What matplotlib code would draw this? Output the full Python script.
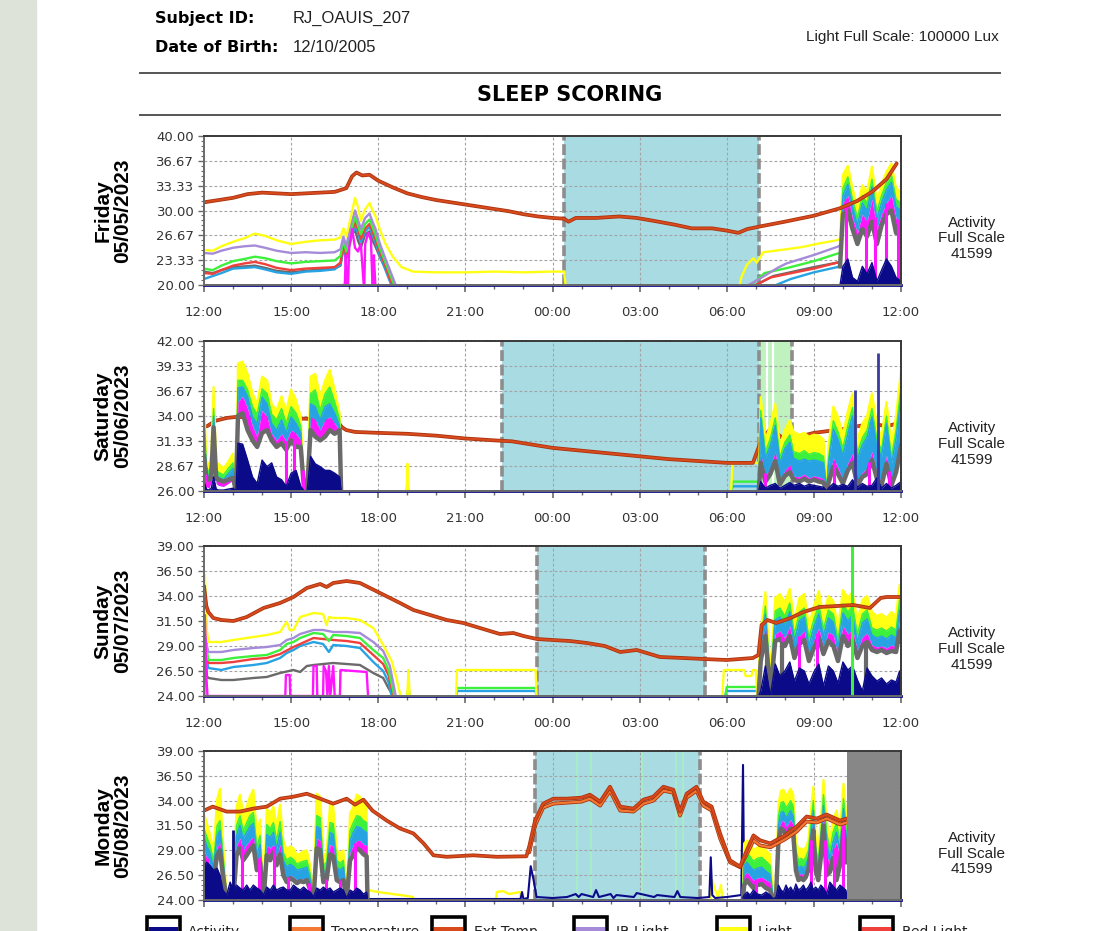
import numpy as np
import matplotlib
matplotlib.use("Agg")
import matplotlib.pyplot as plt
from matplotlib.patches import Rectangle
from matplotlib.lines import Line2D
import matplotlib.patheffects as pe
from matplotlib.ticker import FixedLocator, MultipleLocator

nan = float("nan")

# ---------------------------------------------------------------- text / labels
SUBJECT_ID = "RJ_OAUIS_207"
BIRTH_DATE = "12/10/2005"
LIGHT_SCALE = "Light Full Scale: 100000 Lux"
TITLE = "SLEEP SCORING"
ACTIVITY_FULL_SCALE = 41599
HOUR_LABELS = ["12:00", "15:00", "18:00", "21:00", "00:00", "03:00", "06:00", "09:00", "12:00"]
DAY_NAMES = ["Friday", "Saturday", "Sunday", "Monday"]
DAY_DATES = ["05/05/2023", "05/06/2023", "05/07/2023", "05/08/2023"]
LEGEND_LABELS = ["Activity", "Temperature", "Ext Temp", "IR Light", "Light", "Red Light"]

FRI_YTICKS = [20.00, 23.33, 26.67, 30.00, 33.33, 36.67, 40.00]
SAT_YTICKS = [26.00, 28.67, 31.33, 34.00, 36.67, 39.33, 42.00]
SUN_YTICKS = [24.00, 26.50, 29.00, 31.50, 34.00, 36.50, 39.00]
MON_YTICKS = [24.00, 26.50, 29.00, 31.50, 34.00, 36.50, 39.00]

# sleep / wake intervals (hours after 12:00 noon)
FRI_SLEEP = [12.40, 19.10]
SAT_SLEEP = [10.26, 19.11]
SAT_WAKE_GREEN = [19.11, 20.25]
SAT_GREEN_MARKS = [19.37, 19.60]
SUN_SLEEP = [11.47, 17.25]
MON_SLEEP = [11.40, 17.08]
MON_GREEN_MARKS = [12.84, 13.33, 15.08, 16.25, 16.50]
MON_OFFWRIST = [22.14, 24.0]

# ---------------------------------------------------------------- FRIDAY
FRI_EXT_H = [0, 0.5, 1, 1.5, 2, 2.5, 3, 3.5, 4, 4.5, 4.9, 5.1, 5.25, 5.45, 5.7, 6.0, 6.5, 7, 7.5, 8,
             9, 10, 10.5, 11, 11.5, 12, 12.4, 12.55, 12.8, 13.5, 14.3, 14.9, 15.5, 16.2, 16.8, 17.5, 18.0, 18.4, 18.7, 19.2,
             20.0, 21.0, 21.9, 22.5, 23.0, 23.5, 23.85]
FRI_EXT_V = [31.1, 31.4, 31.7, 32.2, 32.4, 32.3, 32.2, 32.3, 32.4, 32.5, 33.0, 34.6, 35.1, 34.7, 34.8, 34.0, 33.1, 32.3, 31.8, 31.4,
             30.8, 30.2, 29.9, 29.5, 29.2, 29.0, 28.9, 28.5, 29.0, 29.0, 29.2, 29.0, 28.6, 28.1, 27.6, 27.6, 27.3, 27.0, 27.5, 27.9,
             28.5, 29.3, 30.3, 31.3, 32.5, 34.2, 36.3]
FRI_LIGHT_H = [0, 0.3, 0.6, 1.0, 1.4, 1.75, 2.1, 2.5, 3.0, 3.5, 4.0, 4.5, 4.7, 4.8, 4.9, 5.05, 5.2, 5.3, 5.4, 5.55,
               5.7, 5.8, 5.9, 6.05, 6.25, 6.5, 6.8, 7.2, 8.0, 9.0, 10.0, 11.0, 12.0, 12.4, 12.45, nan, 18.45, 18.5, 18.69, 18.92,
               19.03, 19.26, 20.06, 20.6, 21.21, 21.79, 21.9]
FRI_LIGHT_V = [24.7, 24.6, 25.2, 25.8, 26.3, 26.9, 26.6, 26.0, 25.5, 25.8, 26.0, 26.1, 26.4, 27.6, 26.5, 29.0, 31.7, 30.5, 28.6, 30.2,
               31.0, 30.0, 29.3, 27.5, 25.5, 23.8, 22.4, 21.8, 21.7, 21.7, 21.8, 21.7, 21.8, 21.8, 20.0, nan, 20.0, 21.0, 22.7, 23.6,
               23.0, 24.4, 24.8, 25.1, 25.6, 26.0, 26.2]
FRI_IR_H = [0, 0.3, 0.6, 1.0, 1.4, 1.75, 2.1, 2.5, 3.0, 3.5, 4.0, 4.5, 4.7, 4.8, 4.9, 5.05, 5.2, 5.3, 5.4, 5.55,
            5.7, 5.8, 5.9, 6.05, 6.25, 6.45, 6.6, nan, 18.75, 19.29, 19.75, 20.06, 20.98, 21.79, 21.9]
FRI_IR_V = [24.3, 24.2, 24.6, 25.0, 25.2, 25.3, 25.0, 24.6, 24.3, 24.4, 24.3, 24.4, 24.8, 26.5, 25.2, 28.0, 30.0, 28.8, 27.5, 29.0,
            29.6, 28.5, 27.6, 25.6, 23.5, 21.5, 20.0, nan, 20.0, 21.2, 22.3, 22.9, 24.0, 25.1, 25.3]
FRI_GREEN_H = [0, 0.3, 0.6, 1.0, 1.4, 1.75, 2.1, 2.5, 3.0, 3.5, 4.0, 4.5, 4.7, 4.8, 4.9, 5.05, 5.2, 5.3, 5.4, 5.55,
               5.7, 5.8, 5.9, 6.05, 6.25, 6.45, 6.55, nan, 18.85, 19.3, 19.75, 20.1, 21.0, 21.8, 21.9]
FRI_GREEN_V = [22.2, 22.0, 22.6, 23.2, 23.5, 23.8, 23.6, 23.2, 22.9, 23.1, 23.2, 23.3, 23.9, 26.0, 24.5, 27.0, 29.2, 28.0, 26.8, 28.2,
               28.8, 27.8, 26.8, 25.0, 23.0, 21.0, 20.0, nan, 20.0, 21.6, 22.0, 22.3, 23.2, 24.2, 24.3]
FRI_RED_H = [0, 0.3, 0.6, 1.0, 1.4, 1.75, 2.1, 2.5, 3.0, 3.5, 4.0, 4.5, 4.7, 4.8, 4.9, 5.05, 5.2, 5.3, 5.4, 5.55,
             5.7, 5.8, 5.9, 6.05, 6.25, 6.4, 6.5, nan, 19.0, 19.5, 20.1, 21.0, 21.8, 21.9]
FRI_RED_V = [21.6, 21.5, 22.0, 22.6, 22.9, 23.1, 22.8, 22.3, 22.0, 22.2, 22.3, 22.4, 23.0, 25.5, 24.0, 26.5, 28.5, 27.5, 26.2, 27.6,
             28.2, 27.2, 26.2, 24.5, 22.5, 20.8, 20.0, nan, 20.0, 21.0, 21.5, 22.2, 23.0, 23.1]
FRI_BLUE_H = [0, 0.3, 0.6, 1.0, 1.4, 1.75, 2.1, 2.5, 3.0, 3.5, 4.0, 4.5, 4.7, 4.8, 4.9, 5.05, 5.2, 5.3, 5.4, 5.55,
              5.7, 5.8, 5.9, 6.05, 6.25, 6.4, 6.45, nan, 19.7, 20.2, 21.0, 21.8, 21.9]
FRI_BLUE_V = [20.8, 21.2, 21.6, 22.2, 22.3, 22.4, 22.1, 21.7, 21.5, 21.8, 21.9, 22.1, 22.8, 25.0, 23.6, 26.0, 28.0, 27.0, 25.8, 27.2,
              27.8, 26.8, 25.8, 24.0, 22.0, 20.5, 20.0, nan, 20.0, 20.8, 21.7, 22.4, 22.5]
FRI_GREY_H = [0, 0.3, 0.6, 1.0, 1.4, 1.75, 2.1, 2.5, 3.0, 3.5, 4.0, 4.5, 4.7, 4.8, 4.9, 5.05, 5.2, 5.3, 5.4, 5.55,
              5.7, 5.8, 5.9, 6.05, 6.25, 6.4, 6.55, nan, 19.0, 19.6, 20.3, 21.0, 21.8, 21.9]
FRI_GREY_V = [21.8, 21.6, 22.0, 22.4, 22.5, 22.6, 22.3, 21.9, 21.7, 21.9, 22.1, 22.2, 22.6, 25.0, 23.5, 26.2, 27.5, 26.0, 25.0, 26.8,
              27.2, 26.0, 25.2, 23.8, 22.2, 21.0, 20.0, nan, 20.0, 21.2, 21.8, 22.4, 23.0, 23.0]
FRI_MAG_H = [4.8, 4.85, 4.88, 4.92, 4.96, 5.0, 5.1, 5.2, 5.3, 5.4, 5.5, 5.52, 5.55, 5.65, 5.75, 5.8, 5.82, 5.85, 5.9]
FRI_MAG_V = [20.0, 20.0, 24.0, 20.0, 20.0, 25.0, 27.5, 25.0, 24.5, 25.5, 20.0, 20.0, 25.5, 27.0, 26.0, 20.0, 20.0, 24.0, 20.0]
# dense (saturated) stretch, morning
FRI_D_H = [21.9, 22.0, 22.17, 22.33, 22.5, 22.67, 22.83, 23.0, 23.17, 23.33, 23.5, 23.67, 23.83, 24.0]
FRI_D_LIGHT = [26.5, 34.8, 36.0, 33.0, 30.5, 33.4, 32.5, 35.9, 31.2, 33.5, 35.2, 36.3, 33.0, 32.5]
FRI_D_GREEN = [24.5, 33.0, 34.5, 31.5, 29.0, 32.0, 31.0, 34.2, 29.8, 32.0, 33.8, 34.8, 31.5, 31.0]
FRI_D_BLUE = [23.5, 32.0, 33.5, 30.5, 28.0, 31.0, 30.0, 33.2, 28.8, 31.0, 32.8, 33.8, 30.5, 30.0]
FRI_D_MAG = [22.5, 31.0, 32.0, 29.0, 27.0, 29.5, 28.5, 31.5, 27.5, 29.5, 31.0, 32.0, 29.0, 28.5]
FRI_D_GREY = [22.5, 29.5, 30.0, 27.5, 25.5, 27.5, 26.5, 28.5, 25.5, 28.0, 29.5, 30.0, 27.0, 27.0]
FRI_D_ACT = [20.0, 22.5, 23.5, 21.0, 20.5, 22.5, 21.5, 23.0, 20.5, 22.0, 23.5, 22.5, 21.0, 20.5]
FRI_D_MAG_SPIKES = [22.1, 22.8, 23.1, 23.5, 23.9]

# ---------------------------------------------------------------- SATURDAY
SAT_EXT_H = [0.1, 0.4, 0.8, 1.1, 2.5, 3.6, 4.6, 4.75, 4.9, 5.2, 6.0, 7.0, 8.0, 9.0, 10.0, 10.6, 11.0, 12.0, 13.0, 14.0,
             15.0, 16.0, 17.0, 18.0, 18.9, 19.2, 19.5, 20.0, 20.5, 21.0, 21.5, 22.0, 22.5, 23.0, 23.5, 24.0]
SAT_EXT_V = [32.9, 33.5, 33.8, 33.9, 33.8, 33.7, 33.4, 32.8, 32.5, 32.3, 32.2, 32.1, 31.9, 31.6, 31.4, 31.3, 31.1, 30.6, 30.3, 30.0,
             29.7, 29.4, 29.2, 29.0, 29.0, 31.5, 32.6, 31.5, 31.8, 32.2, 32.4, 32.6, 32.9, 33.2, 32.9, 33.3]
SAT_LIGHT_H = [6.98, 7.0, 7.04, nan, 18.15, 18.2, 19.1, 19.12]
SAT_LIGHT_V = [26.0, 28.9, 26.0, nan, 26.0, 29.0, 29.0, 26.0]
SAT_GREEN_H = [6.98, 7.0, 7.04, nan, 18.15, 18.2, 19.1, 19.12]
SAT_GREEN_V = [26.0, 26.8, 26.0, nan, 26.0, 27.0, 27.0, 26.0]
SAT_BLUE_H = [18.15, 18.2, 19.1, 19.12]
SAT_BLUE_V = [26.0, 26.5, 26.5, 26.0]
SAT_A_H = [0.0, 0.08, 0.17, 0.25, 0.33, 0.42, 0.5, 0.67, 0.83, 1.0, 1.1, 1.17, 1.33, 1.5, 1.67, 1.83, 2.0, 2.17, 2.33, 2.5,
           2.67, 2.83, 3.0, 3.17, 3.33, 3.45, 3.55, 3.67, 3.83, 4.0, 4.17, 4.33, 4.5, 4.67, 4.72]
SAT_A_LIGHT = [35.7, 29.3, 28.6, 30.0, 37.1, 29.0, 28.9, 28.4, 29.1, 30.0, 26.0, 39.6, 39.8, 38.5, 36.4, 35.3, 38.2, 37.8, 35.3, 34.6,
               36.1, 34.5, 36.8, 35.7, 33.9, 26.0, 26.0, 38.2, 38.5, 36.1, 37.8, 38.9, 36.8, 34.3, 26.0]
SAT_A_GREEN = [34.5, 28.6, 28.0, 29.0, 34.8, 28.2, 28.0, 27.7, 28.4, 29.0, 26.0, 37.8, 37.8, 36.8, 35.0, 34.2, 36.9, 36.4, 34.2, 33.6,
               34.8, 33.2, 35.0, 34.3, 32.9, 26.0, 26.0, 36.4, 36.8, 34.6, 36.4, 37.1, 35.5, 33.6, 26.0]
SAT_A_BLUE = [33.5, 28.0, 27.5, 28.3, 34.0, 27.6, 27.5, 27.2, 27.8, 28.4, 26.0, 37.0, 37.1, 36.1, 33.9, 33.2, 36.0, 35.3, 33.2, 32.5,
              33.6, 32.2, 33.9, 33.2, 32.2, 26.0, 26.0, 35.3, 35.0, 33.6, 35.0, 35.3, 34.3, 32.9, 26.0]
SAT_A_MAG = [30.0, 26.5, 26.3, 27.0, 31.0, 26.8, 26.6, 26.5, 26.8, 27.2, 26.0, 35.5, 36.1, 34.8, 32.9, 31.8, 34.6, 33.9, 32.1, 31.4,
             32.1, 31.3, 32.5, 32.1, 31.4, 26.0, 26.0, 33.9, 33.6, 32.5, 33.6, 33.9, 33.2, 32.5, 26.0]
SAT_A_GREY = [29.7, 27.5, 27.2, 27.5, 32.8, 27.3, 27.2, 27.0, 27.2, 27.4, 26.0, 34.0, 34.3, 32.5, 31.4, 30.7, 32.2, 32.5, 31.4, 30.7,
              31.1, 30.4, 31.4, 30.7, 30.7, 26.0, 26.0, 32.5, 31.8, 31.4, 31.8, 32.5, 32.1, 32.5, 26.0]
SAT_A_ACT = [27.0, 26.2, 26.1, 26.3, 27.5, 26.2, 26.1, 26.1, 26.2, 26.3, 26.0, 31.1, 31.0, 29.3, 27.5, 26.8, 29.3, 28.6, 29.0, 27.5,
             27.2, 26.5, 27.9, 28.2, 26.5, 26.0, 26.0, 29.7, 28.9, 28.6, 28.2, 28.2, 27.9, 27.5, 26.0]
SAT_A_MAG_SPIKES = [0.05, 2.83, 3.1, 3.4]
SAT_B_H = [19.1, 19.17, 19.33, 19.5, 19.67, 19.83, 20.0, 20.17, 20.3, 20.5, 20.67, 20.83, 21.0, 21.17, 21.33, 21.45,
           21.5, 21.67, 21.83, 22.0, 22.17, 22.33, 22.5, 22.67, 22.83, 23.0, 23.17, 23.33, 23.5, 23.67, 23.83, 24.0]
SAT_B_LIGHT = [26.0, 36.0, 31.5, 33.0, 35.3, 30.8, 32.5, 33.5, 32.3, 32.0, 32.2, 31.8, 32.0, 31.9, 31.5, 26.0,
               30.8, 35.0, 33.9, 32.0, 34.5, 36.4, 31.5, 33.2, 34.0, 36.4, 33.0, 31.8, 35.5, 31.0, 34.0, 38.9]
SAT_B_GREEN = [26.0, 34.6, 30.2, 31.6, 33.8, 29.6, 31.2, 32.0, 30.2, 30.0, 30.3, 29.9, 30.1, 30.0, 29.7, 26.0,
               29.4, 33.5, 32.3, 30.6, 33.0, 34.9, 30.1, 31.7, 32.5, 34.8, 31.5, 30.4, 34.0, 29.6, 32.5, 37.2]
SAT_B_BLUE = [26.0, 33.8, 29.5, 30.8, 33.0, 29.0, 30.5, 31.2, 29.5, 29.2, 29.4, 29.2, 29.3, 29.2, 29.0, 26.0,
              28.8, 32.6, 31.5, 29.8, 32.1, 34.0, 29.4, 30.9, 31.7, 33.9, 30.7, 29.7, 33.2, 28.9, 31.6, 36.0]
SAT_B_MAG = [26.0, 30.0, 27.5, 28.5, 30.2, 27.0, 28.2, 28.8, 27.6, 27.5, 27.8, 27.4, 27.6, 27.5, 27.3, 26.0,
             27.2, 29.5, 28.5, 27.2, 29.0, 30.0, 27.0, 28.0, 28.4, 30.2, 27.8, 27.0, 29.8, 27.0, 28.8, 31.8]
SAT_B_GREY = [26.0, 29.0, 27.0, 27.8, 29.2, 26.7, 27.6, 28.0, 27.2, 27.0, 27.3, 27.0, 27.2, 27.0, 26.9, 26.0,
              26.8, 28.6, 27.8, 26.8, 28.2, 29.0, 26.6, 27.5, 27.8, 29.3, 27.3, 26.6, 28.9, 26.6, 28.0, 30.8]
SAT_B_ACT = [26.0, 27.0, 26.3, 26.6, 26.8, 26.3, 26.6, 26.9, 26.6, 26.8, 26.5, 26.7, 26.6, 26.5, 26.4, 26.0,
             26.3, 26.8, 26.5, 26.7, 26.5, 27.2, 26.4, 26.8, 26.5, 26.6, 27.4, 26.3, 26.8, 26.3, 26.6, 27.0]
SAT_B_MAG_SPIKES = [19.3, 21.7, 22.9, 23.6]
SAT_ACT_SPIKE_H = [22.4, 23.2]
SAT_ACT_SPIKE_V = [36.8, 40.7]

# ---------------------------------------------------------------- SUNDAY
SUN_EXT_H = [0.0, 0.08, 0.15, 0.32, 0.6, 1.01, 1.47, 2.05, 2.62, 3.08, 3.54, 4.0, 4.22, 4.45, 4.91, 5.37, 6.06, 6.75, 7.21, 8.36,
             8.93, 9.5, 10.19, 10.65, 11.0, 11.46, 12.0, 12.6, 13.18, 13.8, 14.33, 14.9, 15.7, 16.5, 17.2, 18.0, 18.9, 19.09, 19.2, 19.4,
             19.7, 20.2, 20.64, 21.2, 21.8, 22.36, 22.93, 23.3, 23.5, 24.0]
SUN_EXT_V = [35.0, 33.0, 32.4, 31.8, 31.6, 31.5, 31.9, 32.8, 33.3, 33.9, 34.8, 35.2, 34.9, 35.3, 35.5, 35.3, 34.3, 33.3, 32.6, 31.6,
             31.3, 30.8, 30.2, 30.3, 30.0, 29.7, 29.6, 29.5, 29.3, 29.0, 28.4, 28.6, 27.9, 27.8, 27.7, 27.6, 27.8, 28.1, 31.1, 31.6,
             31.3, 31.8, 32.4, 32.9, 33.0, 33.1, 32.8, 33.8, 33.9, 33.9]
SUN_LIGHT_H = [0.0, 0.03, 0.1, 0.15, 0.6, 1.01, 1.7, 2.16, 2.62, 2.75, 2.85, 2.95, 3.08, 3.31, 3.77, 4.1, 4.22, 4.3, 4.45, 4.91,
               5.37, 5.83, 6.17, 6.46, 6.65, 6.75, 6.78, nan, 7.0, 7.04, 7.08, nan, 8.68, 8.71, 11.42, 11.45, nan, 17.85, 17.9, 18.6,
               18.65, 18.85, 18.9, 19.0, 19.05]
SUN_LIGHT_V = [24.0, 36.1, 30.5, 29.4, 29.4, 29.6, 29.9, 30.1, 30.4, 31.0, 31.4, 30.6, 30.6, 31.9, 32.3, 32.2, 31.1, 31.9, 31.8, 31.8,
               31.6, 30.8, 29.1, 27.5, 25.5, 24.2, 24.0, nan, 24.0, 26.6, 24.0, nan, 24.0, 26.6, 26.6, 24.0, nan, 24.0, 26.6, 26.6,
               26.0, 26.0, 26.6, 26.6, 24.0]
SUN_IR_H = [0.0, 0.03, 0.1, 0.15, 0.6, 1.01, 1.7, 2.16, 2.62, 2.85, 3.08, 3.31, 3.77, 4.1, 4.45, 4.91, 5.37, 5.83, 6.17, 6.4,
            6.57, 6.6]
SUN_IR_V = [24.0, 34.5, 29.0, 28.4, 28.4, 28.6, 28.8, 28.9, 29.1, 29.6, 29.8, 30.2, 30.6, 30.6, 30.4, 30.4, 30.3, 29.4, 28.5, 27.0,
            24.5, 24.0]
SUN_GREEN_H = [0.0, 0.03, 0.1, 0.15, 0.6, 1.01, 1.7, 2.16, 2.62, 2.85, 3.08, 3.31, 3.77, 4.1, 4.3, 4.45, 4.91, 5.37, 5.83, 6.17,
               6.35, 6.52, 6.55, nan, 7.0, 7.04, 7.08, nan, 8.68, 8.71, 11.42, 11.45, nan, 17.95, 18.0, 19.1]
SUN_GREEN_V = [24.0, 34.0, 28.5, 27.6, 27.6, 27.8, 28.0, 28.1, 28.6, 29.2, 29.4, 29.8, 30.3, 30.2, 29.5, 30.1, 30.0, 29.8, 28.6, 27.8,
               26.6, 24.5, 24.0, nan, 24.0, 24.9, 24.0, nan, 24.0, 24.8, 24.8, 24.0, nan, 24.0, 24.9, 24.9]
SUN_RED_H = [0.0, 0.03, 0.1, 0.15, 0.6, 1.01, 1.7, 2.16, 2.62, 3.08, 3.31, 3.77, 4.1, 4.45, 4.91, 5.37, 5.83, 6.17, 6.35, 6.5, 6.52]
SUN_RED_V = [24.0, 33.0, 28.0, 27.3, 27.3, 27.4, 27.7, 27.8, 28.2, 28.9, 29.2, 29.8, 29.7, 29.6, 29.5, 29.3, 28.1, 27.2, 26.1, 24.3, 24.0]
SUN_BLUE_H = [0.0, 0.03, 0.1, 0.15, 0.6, 1.01, 1.7, 2.16, 2.62, 2.85, 3.08, 3.31, 3.77, 4.1, 4.3, 4.45, 4.91, 5.37, 5.83, 6.17,
              6.35, 6.46, nan, 7.0, 7.04, 7.08, nan, 8.68, 8.71, 11.42, 11.45, nan, 17.95, 18.0, 19.1]
SUN_BLUE_V = [24.0, 33.8, 27.5, 26.8, 26.6, 26.9, 27.1, 27.3, 27.8, 28.3, 28.6, 29.0, 29.4, 29.2, 28.4, 29.1, 29.0, 28.8, 27.4, 26.5,
              25.4, 24.0, nan, 24.0, 24.6, 24.0, nan, 24.0, 24.5, 24.5, 24.0, nan, 24.0, 24.5, 24.5]
SUN_GREY_H = [0.0, 0.03, 0.1, 0.15, 0.6, 1.01, 1.7, 2.16, 2.62, 3.08, 3.31, 3.54, 3.77, 4.45, 4.91, 5.37, 5.83, 6.17, 6.35, 6.52]
SUN_GREY_V = [24.0, 30.1, 26.0, 25.8, 25.6, 25.6, 25.8, 25.9, 26.3, 26.6, 26.4, 27.0, 27.1, 27.3, 27.2, 27.1, 26.3, 25.8, 24.8, 24.0]
SUN_MAG_H = [0.0, 0.03, 0.08, 0.12, 2.8, 2.82, 2.95, 2.97, 3.75, 3.77, 3.88, 3.9, 4.1, 4.12, 4.2, 4.25, 4.3, 4.35, 4.45, 4.5,
             4.68, 4.7, 5.6, 5.65]
SUN_MAG_V = [24.0, 32.1, 26.0, 24.0, 24.0, 26.1, 26.1, 24.0, 24.0, 27.0, 27.0, 24.0, 24.0, 27.0, 26.5, 24.0, 27.0, 24.0, 27.0, 24.0,
             24.0, 26.6, 26.4, 24.0]
SUN_B_H = [19.1, 19.17, 19.33, 19.5, 19.67, 19.83, 20.0, 20.17, 20.33, 20.5, 20.67, 20.83, 21.0, 21.17, 21.33, 21.5,
           21.67, 21.83, 22.0, 22.17, 22.33, 22.5, 22.67, 22.83, 23.0, 23.17, 23.33, 23.5, 23.67, 23.83, 23.95, 24.0]
SUN_B_LIGHT = [26.5, 30.5, 34.4, 26.5, 33.8, 34.2, 33.4, 34.7, 31.5, 33.8, 34.2, 31.0, 33.0, 34.5, 32.0, 34.0,
               33.5, 30.8, 34.6, 33.8, 34.4, 31.5, 33.6, 34.0, 32.4, 32.0, 32.2, 31.8, 32.4, 32.0, 35.1, 33.0]
SUN_B_GREEN = [25.0, 29.5, 33.0, 25.5, 32.5, 32.8, 32.0, 33.3, 30.2, 32.4, 32.8, 29.8, 31.7, 33.1, 30.7, 32.6,
               32.2, 29.6, 33.2, 32.4, 33.0, 30.2, 32.2, 32.6, 30.8, 30.6, 30.8, 30.5, 30.9, 30.6, 33.6, 31.8]
SUN_B_BLUE = [24.8, 28.8, 32.2, 25.0, 31.6, 31.9, 31.1, 32.4, 29.5, 31.5, 31.9, 29.0, 30.9, 32.2, 30.0, 31.8,
              31.4, 28.9, 32.3, 31.5, 32.1, 29.4, 31.3, 31.7, 30.1, 29.8, 30.0, 29.7, 30.1, 29.8, 32.6, 31.0]
SUN_B_MAG = [24.5, 28.0, 31.0, 24.6, 30.2, 30.5, 29.8, 31.0, 28.4, 30.0, 30.5, 28.0, 29.6, 30.8, 28.8, 30.4,
             30.1, 28.0, 31.0, 30.2, 30.7, 28.5, 29.9, 30.3, 29.1, 28.9, 29.0, 28.8, 29.1, 28.9, 31.5, 30.0]
SUN_B_GREY = [24.3, 27.5, 30.0, 24.3, 29.5, 29.7, 29.0, 30.0, 27.8, 29.2, 29.6, 27.5, 28.8, 29.8, 28.2, 29.5,
              29.0, 27.5, 30.0, 29.0, 29.6, 27.8, 29.0, 29.4, 28.6, 28.4, 28.6, 28.3, 28.5, 28.4, 30.5, 29.5]
SUN_B_ACT = [24.0, 24.5, 27.0, 24.0, 27.2, 26.0, 26.5, 27.4, 25.5, 26.8, 26.5, 25.2, 26.4, 27.2, 25.0, 27.0,
             26.5, 25.3, 27.4, 26.6, 27.0, 25.6, 24.5, 26.8, 26.0, 25.5, 25.8, 25.2, 25.6, 25.4, 26.5, 26.0]
SUN_B_MAG_SPIKES = [19.9, 20.5, 21.1]
SUN_B_GREY_DROPS = [19.4, 19.6, 19.9, 22.8]
SUN_GREEN_SPIKE_H = [22.3]

# ---------------------------------------------------------------- MONDAY
MON_EXT_H = [0.0, 0.3, 0.78, 1.24, 1.7, 2.16, 2.62, 3.08, 3.54, 4.0, 4.45, 4.91, 5.2, 5.49, 5.8, 6.29, 6.75, 7.21, 7.56, 7.9,
             8.36, 9.27, 10.08, 11.1, 11.2, 11.4, 11.68, 12.03, 12.5, 13.0, 13.29, 13.64, 13.98, 14.33, 14.79, 15.13, 15.47, 15.82, 16.16, 16.39,
             16.62, 16.96, 17.19, 17.48, 17.77, 18.11, 18.46, 18.69, 18.92, 19.15, 19.5, 20.0, 20.41, 20.75, 21.1, 21.44, 21.9, 22.13]
MON_EXT_V = [33.0, 33.4, 32.9, 32.9, 33.2, 33.4, 34.2, 34.4, 34.7, 34.2, 33.7, 34.2, 33.6, 34.1, 33.0, 32.0, 31.2, 30.7, 29.7, 28.5,
             28.35, 28.5, 28.35, 28.4, 29.4, 32.0, 33.7, 34.2, 34.2, 34.3, 34.6, 33.9, 35.4, 33.4, 33.2, 34.1, 34.4, 35.4, 35.1, 32.9,
             34.7, 35.4, 33.9, 33.4, 30.7, 28.0, 27.35, 29.0, 30.5, 30.0, 29.7, 30.5, 31.4, 32.4, 32.2, 32.6, 32.0, 32.2]
MON_TEMP_H = [11.2, 11.4, 11.68, 12.03, 12.5, 13.0, 13.29, 13.64, 13.98, 14.33, 14.79, 15.13, 15.47, 15.82, 16.16, 16.39, 16.62,
              16.96, 17.19, 17.48, 17.77, 18.11, 18.46, 18.69, 18.92, 19.15, 19.5, 20.0, 20.41, 20.75, 21.1, 21.44, 21.9, 22.13]
MON_TEMP_V = [28.8, 31.5, 33.3, 33.7, 33.8, 33.9, 34.2, 33.5, 35.0, 33.0, 32.9, 33.7, 34.0, 35.0, 34.8, 32.5, 34.3,
              35.0, 33.5, 33.0, 30.2, 27.8, 27.3, 28.6, 30.0, 29.5, 29.3, 30.1, 30.9, 31.9, 31.8, 32.2, 31.6, 31.8]
MON_LIGHT_H = [5.63, 5.65, 6.0, 6.5, 7.0, 7.2, 7.22, nan, 10.05, 10.08, 10.3, 10.5, 10.88, 10.9, nan,
               17.45, 17.5, 17.6, 17.7, 17.8, 17.85]
MON_LIGHT_V = [24.0, 25.0, 24.8, 24.6, 24.4, 24.3, 24.0, nan, 24.0, 24.8, 24.9, 24.6, 24.8, 24.0, nan,
               24.0, 26.0, 25.0, 24.3, 25.5, 24.0]
MON_ACT_H = [5.63, 10.9, 10.95, 11.0, 11.15, 11.25, 11.35, 11.45, 12.0, 12.5, 12.8, 12.9, 13.0, 13.4, 13.5, 13.6, 14.0, 14.1,
             14.2, 14.8, 14.9, 15.5, 15.6, 16.2, 16.3, 16.4, 17.0, 17.4, 17.45, 17.5, 17.6, 18.0, 18.5, 18.56, 18.6, 18.7]
MON_ACT_V = [24.1, 24.1, 24.8, 24.1, 24.2, 27.4, 26.0, 24.3, 24.2, 24.3, 24.6, 24.3, 24.6, 24.3, 25.0, 24.3, 24.6, 24.2,
             24.5, 24.3, 24.7, 24.3, 24.5, 24.3, 24.9, 24.3, 24.2, 24.3, 28.3, 24.5, 24.2, 24.3, 24.5, 37.6, 24.5, 24.2]
MON_A_H = [0.0, 0.1, 0.2, 0.33, 0.45, 0.55, 0.65, 0.78, 0.9, 1.01, 1.12, 1.24, 1.35, 1.47, 1.58, 1.7, 1.82, 1.93, 2.05, 2.16,
           2.28, 2.39, 2.5, 2.62, 2.73, 2.85, 2.97, 3.08, 3.2, 3.31, 3.43, 3.54, 3.66, 3.77, 3.88, 4.0, 4.11, 4.22, 4.34, 4.45,
           4.57, 4.68, 4.8, 4.91, 5.03, 5.14, 5.26, 5.37, 5.49, 5.6, 5.63]
MON_A_LIGHT = [32.7, 31.7, 30.7, 29.0, 34.1, 35.2, 30.0, 24.3, 24.7, 24.5, 33.4, 34.6, 32.7, 33.4, 34.4, 35.1, 30.7, 32.1, 24.3, 33.2,
               32.7, 33.4, 31.4, 33.6, 30.0, 29.0, 29.4, 29.2, 28.5, 28.7, 28.9, 29.0, 27.4, 24.3, 34.7, 34.4, 28.4, 28.7, 33.7, 33.4,
               29.0, 28.7, 29.0, 24.7, 32.7, 33.4, 34.6, 34.4, 33.7, 33.4, 24.0]
MON_A_GREEN = [31.2, 30.3, 29.6, 28.0, 31.5, 32.0, 28.8, 24.1, 24.2, 24.2, 31.5, 32.5, 31.0, 31.8, 32.5, 32.8, 29.3, 30.5, 24.1, 31.6,
               31.2, 31.8, 30.0, 31.9, 28.8, 28.0, 28.3, 28.1, 27.6, 27.8, 27.9, 28.0, 26.6, 24.1, 32.5, 32.3, 27.5, 27.8, 31.8, 31.7,
               28.0, 27.7, 28.0, 24.2, 31.0, 31.8, 32.5, 32.4, 32.0, 31.8, 24.0]
MON_A_BLUE = [30.3, 29.4, 28.8, 27.3, 30.5, 31.0, 28.0, 24.1, 24.2, 24.2, 30.5, 31.5, 30.2, 30.8, 31.4, 31.7, 28.5, 29.6, 24.1, 30.6,
              30.3, 30.8, 29.2, 30.8, 28.0, 27.3, 27.6, 27.4, 27.0, 27.1, 27.2, 27.3, 26.0, 24.1, 31.4, 31.2, 26.8, 27.0, 30.8, 30.6,
              27.3, 27.0, 27.3, 24.2, 30.0, 30.8, 31.4, 31.3, 31.0, 30.8, 24.0]
MON_A_MAG = [29.0, 28.2, 27.6, 26.5, 29.3, 29.8, 27.0, 24.1, 24.1, 24.1, 29.5, 30.2, 29.0, 29.6, 30.0, 30.4, 27.5, 28.5, 24.0, 29.5,
             29.2, 29.6, 28.2, 29.6, 26.8, 26.2, 26.5, 26.3, 26.0, 26.1, 26.1, 26.2, 25.2, 24.0, 30.2, 30.0, 26.0, 26.2, 29.6, 29.4,
             26.3, 26.0, 26.3, 24.0, 28.8, 29.5, 30.0, 30.0, 29.6, 29.5, 24.0]
MON_A_GREY = [28.0, 27.5, 27.0, 26.0, 28.5, 29.0, 26.5, 24.1, 24.1, 24.1, 28.5, 29.2, 28.0, 28.5, 29.0, 29.5, 27.0, 27.8, 24.0, 28.5,
              28.0, 28.8, 27.5, 28.6, 26.5, 25.8, 26.2, 26.0, 25.7, 25.9, 25.8, 26.0, 25.0, 24.0, 29.2, 29.0, 25.8, 26.0, 28.6, 28.4,
              26.0, 25.8, 26.0, 24.0, 28.0, 28.5, 29.2, 29.0, 28.6, 28.4, 24.0]
MON_A_ACT = [27.4, 27.8, 27.5, 27.0, 27.2, 26.5, 25.0, 24.5, 25.8, 25.0, 25.5, 25.2, 25.0, 25.5, 25.0, 25.5, 25.2, 25.0, 24.5, 25.3,
             25.0, 25.5, 25.0, 25.2, 25.3, 25.0, 25.0, 25.5, 25.2, 25.0, 25.3, 25.0, 24.8, 24.3, 25.2, 25.0, 25.3, 25.0, 25.2, 24.8,
             25.0, 25.2, 25.0, 24.2, 25.0, 24.8, 25.2, 25.0, 24.6, 24.8, 24.0]
MON_A_MAG_SPIKES = [0.1, 1.3, 1.9, 2.4, 2.9, 3.6, 4.2, 4.7, 5.2]
MON_ACT_SPIKE_H = [1.0]
MON_ACT_SPIKE_V = [31.0]
MON_B_H = [18.55, 18.6, 18.7, 18.8, 18.92, 19.05, 19.2, 19.35, 19.49, 19.6, 19.7, 19.78, 19.87, 19.95, 20.04, 20.12, 20.2, 20.29, 20.38,
           20.47, 20.56, 20.64, 20.72, 20.81, 20.9, 20.98, 21.06, 21.15, 21.24, 21.33, 21.44, 21.55, 21.66, 21.78, 21.9, 22.02, 22.1, 22.13]
MON_B_LIGHT = [24.3, 29.7, 30.0, 29.6, 29.0, 29.3, 29.5, 29.0, 28.6, 24.2, 26.0, 33.7, 35.0, 35.1, 34.5, 34.8, 35.2, 34.6, 30.0,
               29.0, 29.2, 29.0, 29.3, 30.0, 33.0, 35.4, 30.5, 29.0, 32.0, 36.1, 32.0, 30.0, 32.0, 33.0, 31.0, 35.7, 33.0, 31.4]
MON_B_GREEN = [24.2, 28.5, 28.8, 28.4, 27.9, 28.2, 28.3, 27.9, 27.5, 24.1, 25.5, 32.5, 33.8, 33.9, 33.3, 33.6, 34.0, 33.4, 29.0,
               28.0, 28.2, 28.0, 28.3, 29.0, 31.8, 34.0, 29.3, 28.0, 30.8, 34.6, 30.8, 29.0, 30.8, 31.8, 29.8, 34.2, 31.8, 30.2]
MON_B_BLUE = [24.1, 27.5, 27.8, 27.4, 27.0, 27.2, 27.3, 26.9, 26.6, 24.1, 25.2, 31.6, 32.8, 32.9, 32.3, 32.6, 33.0, 32.4, 28.2,
              27.2, 27.4, 27.2, 27.5, 28.2, 30.8, 33.0, 28.5, 27.2, 29.8, 33.5, 29.8, 28.2, 29.8, 30.8, 29.0, 33.2, 30.8, 29.3]
MON_B_MAG = [24.0, 26.5, 26.8, 26.4, 26.0, 26.2, 26.3, 26.0, 25.8, 24.0, 24.8, 30.8, 31.9, 32.0, 31.4, 31.7, 32.1, 31.5, 27.5,
             26.5, 26.7, 26.5, 26.8, 27.5, 30.0, 32.1, 27.8, 26.5, 29.0, 32.6, 28.5, 27.5, 29.0, 29.8, 28.3, 32.2, 30.0, 28.5]
MON_B_GREY = [24.0, 25.5, 26.0, 25.6, 25.2, 25.5, 25.6, 25.2, 25.0, 24.0, 24.5, 30.0, 31.2, 31.0, 30.5, 30.8, 31.2, 30.6, 27.0,
              26.0, 26.2, 26.0, 26.3, 27.0, 29.0, 31.0, 27.0, 26.0, 28.3, 31.5, 26.5, 26.8, 28.2, 26.0, 27.5, 31.0, 29.2, 27.8]
MON_B_ACT = [24.2, 24.5, 24.8, 24.5, 25.0, 24.6, 24.5, 24.8, 24.5, 24.1, 24.3, 25.5, 25.0, 24.8, 25.5, 25.0, 25.3, 24.8, 25.6,
             25.0, 25.2, 25.5, 25.0, 25.3, 25.8, 25.0, 25.3, 25.0, 25.5, 25.2, 24.6, 25.8, 25.4, 25.0, 25.5, 25.2, 25.0, 24.5]
MON_B_MAG_SPIKES = [19.0, 20.9, 21.4, 21.7, 22.0]

# ---------------------------------------------------------------- styling
C_YEL = "#ffff14"
C_GRN = "#3cf03c"
C_BLU = "#27a3e3"
C_MAG = "#ff16ff"
C_GRY = "#6a6a6a"
C_NAVY = "#0b0b8a"
C_IR = "#a58bd8"
C_RED = "#f0403c"
C_EXT = "#d84a1c"
C_TEMP = "#f47a34"
C_SLEEP = "#a9dbe3"
C_WAKE = "#bff2bf"
C_OFF = "#878787"
GRID_C = "#a3a3a3"

W, H = 1108, 931


def fx(x):
    return x / W


def fy(y):
    return 1 - y / H


NARROW = ["Liberation Sans Narrow", "Liberation Sans", "DejaVu Sans"]

fig = plt.figure(figsize=(W / 100, H / 100), dpi=100)
fig.patch.set_facecolor("white")
fig.add_artist(Rectangle((0, 0), fx(36), 1, transform=fig.transFigure, color="#dde3d9", zorder=0))

# header
fig.text(fx(155), fy(18), "Subject ID:", fontsize=11.5, fontweight="bold", family="DejaVu Sans", va="center", ha="left")
fig.text(fx(293), fy(18), SUBJECT_ID, fontsize=12, family="Liberation Sans", va="center", ha="left", color="#222")
fig.text(fx(155), fy(48), "Date of Birth:", fontsize=11.5, fontweight="bold", family="DejaVu Sans", va="center", ha="left")
fig.text(fx(293), fy(48), BIRTH_DATE, fontsize=12, family="Liberation Sans", va="center", ha="left", color="#222")
fig.text(fx(999), fy(37), LIGHT_SCALE, fontsize=11, family=NARROW, va="center", ha="right", color="#222")
for yy in (73, 115):
    fig.add_artist(Line2D([fx(140), fx(1000)], [fy(yy), fy(yy)], color="#555555", lw=1.4, transform=fig.transFigure))
fig.text(fx(570), fy(95), TITLE, fontsize=15, fontweight="bold", family="DejaVu Sans", va="center", ha="center")


def ext_line(ax, h, v, color, z):
    ax.plot(h, v, color=color, lw=1.5, zorder=z, solid_capstyle="round",
            path_effects=[pe.Stroke(linewidth=2.7, foreground="#a8330f"), pe.Normal()])


def smooth(ax, h, v, color, lw=1.7, z=3.5):
    ax.plot(h, v, color=color, lw=lw, zorder=z)


def dense(ax, h, light, green, blue, mag, grey, act, ymin, mag_spikes=(), grey_drops=()):
    h = np.asarray(h, float)
    ax.fill_between(h, light, green, color=C_YEL, lw=0, zorder=4.0)
    ax.plot(h, light, color=C_YEL, lw=1.6, zorder=4.0)
    ax.fill_between(h, green, blue, color=C_GRN, lw=0, zorder=4.1)
    ax.plot(h, green, color=C_GRN, lw=1.0, zorder=4.1)
    ax.fill_between(h, blue, mag, color=C_BLU, lw=0, zorder=4.2)
    ax.plot(h, blue, color=C_BLU, lw=1.0, zorder=4.2)
    ax.fill_between(h, mag, grey, color=C_MAG, lw=0, zorder=4.3)
    ax.plot(h, grey, color=C_GRY, lw=3.2, zorder=4.4)
    if len(mag_spikes):
        ax.vlines(mag_spikes, ymin, np.interp(mag_spikes, h, mag), color=C_MAG, lw=2.2, zorder=4.45)
    if len(grey_drops):
        ax.vlines(grey_drops, ymin, np.interp(grey_drops, h, grey), color=C_GRY, lw=3.0, zorder=4.45)
    ax.fill_between(h, ymin, act, color=C_NAVY, lw=0, zorder=4.5)
    ax.plot(h, act, color=C_NAVY, lw=1.0, zorder=4.5)


def setup_axis(ax, yt, show_xlabels=True):
    ymin, ymax = yt[0], yt[-1]
    ax.set_xlim(0, 24)
    ax.set_ylim(ymin, ymax)
    ax.set_xticks(range(0, 25, 3))
    ax.set_xticklabels(HOUR_LABELS if show_xlabels else [])
    ax.xaxis.set_minor_locator(MultipleLocator(1))
    ax.set_yticks(yt)
    ax.set_yticklabels([f"{v:.2f}" for v in yt])
    minors = []
    for a, b in zip(yt[:-1], yt[1:]):
        minors += list(np.linspace(a, b, 6)[1:-1])
    ax.yaxis.set_minor_locator(FixedLocator(minors))
    ax.tick_params(axis="x", which="major", length=5, width=1.2, color="#6a6a6a", pad=10,
                   labelsize=9.5, labelcolor="#333333", direction="out")
    ax.tick_params(axis="x", which="minor", length=3, width=1.0, color="#6a6a6a", direction="out")
    ax.tick_params(axis="y", which="major", length=4.5, width=1.0, color="#6a6a6a", pad=2.5,
                   labelsize=9.5, labelcolor="#333333", direction="out")
    ax.tick_params(axis="y", which="minor", length=2.5, width=0.8, color="#6a6a6a", direction="out")
    for s in ("left", "bottom"):
        ax.spines[s].set_color("#6a6a6a")
        ax.spines[s].set_linewidth(1.4)
    for s in ("top", "right"):
        ax.spines[s].set_color("#3a3a3a")
        ax.spines[s].set_linewidth(1.4)
        ax.spines[s].set_linestyle((0, (1.2, 0.8)))
    for s in ax.spines.values():
        s.set_zorder(6)
    for t in range(3, 24, 3):
        ax.axvline(t, color=GRID_C, lw=0.8, ls=(0, (2.5, 2)), zorder=1)
    for v in yt[1:-1]:
        ax.axhline(v, color=GRID_C, lw=0.8, ls=(0, (2.5, 2)), zorder=1)
    ax.axhline(ymin, color=C_NAVY, lw=2.0, zorder=2, clip_on=False)


# panels: rows in pixel coordinates
ROWS = [(136, 285), (341, 491), (546, 696), (751, 900)]
axes = []
for (top, bot) in ROWS:
    ax = fig.add_axes([fx(204), fy(bot), fx(901) - fx(204), fy(top) - fy(bot)])
    ax.set_facecolor("white")
    axes.append(ax)


def sleep_span(ax, span, color=C_SLEEP, edges=True):
    ax.axvspan(span[0], span[1], color=color, lw=0, zorder=0.5)
    if edges:
        for e in span:
            ax.axvline(e, color="#8d8d8d", lw=2.6, ls=(0, (3, 1)), zorder=1.5)


# ---------------- Friday
ax = axes[0]
setup_axis(ax, FRI_YTICKS)
sleep_span(ax, FRI_SLEEP)
ymin = FRI_YTICKS[0]
for hh, vv, cc in [(FRI_GREY_H, FRI_GREY_V, C_GRY), (FRI_BLUE_H, FRI_BLUE_V, C_BLU), (FRI_RED_H, FRI_RED_V, C_RED),
                   (FRI_GREEN_H, FRI_GREEN_V, C_GRN), (FRI_IR_H, FRI_IR_V, C_IR), (FRI_LIGHT_H, FRI_LIGHT_V, C_YEL),
                   (FRI_MAG_H, FRI_MAG_V, C_MAG)]:
    smooth(ax, hh, vv, cc)
dense(ax, FRI_D_H, FRI_D_LIGHT, FRI_D_GREEN, FRI_D_BLUE, FRI_D_MAG, FRI_D_GREY, FRI_D_ACT, ymin,
      mag_spikes=FRI_D_MAG_SPIKES)
ext_line(ax, FRI_EXT_H, FRI_EXT_V, C_EXT, 5)

# ---------------- Saturday
ax = axes[1]
setup_axis(ax, SAT_YTICKS)
sleep_span(ax, SAT_SLEEP)
ax.axvspan(SAT_WAKE_GREEN[0], SAT_WAKE_GREEN[1], color=C_WAKE, lw=0, zorder=0.5)
for m in SAT_GREEN_MARKS:
    ax.axvline(m, color="white", lw=1.6, zorder=0.6)
ax.axvline(SAT_WAKE_GREEN[1], color="#8d8d8d", lw=2.6, ls=(0, (3, 1)), zorder=1.5)
ymin = SAT_YTICKS[0]
ext_line(ax, SAT_EXT_H, SAT_EXT_V, C_EXT, 3.8)
smooth(ax, SAT_BLUE_H, SAT_BLUE_V, C_BLU)
smooth(ax, SAT_GREEN_H, SAT_GREEN_V, C_GRN)
smooth(ax, SAT_LIGHT_H, SAT_LIGHT_V, C_YEL)
dense(ax, SAT_A_H, SAT_A_LIGHT, SAT_A_GREEN, SAT_A_BLUE, SAT_A_MAG, SAT_A_GREY, SAT_A_ACT, ymin,
      mag_spikes=SAT_A_MAG_SPIKES)
dense(ax, SAT_B_H, SAT_B_LIGHT, SAT_B_GREEN, SAT_B_BLUE, SAT_B_MAG, SAT_B_GREY, SAT_B_ACT, ymin,
      mag_spikes=SAT_B_MAG_SPIKES)
ax.vlines(SAT_ACT_SPIKE_H, ymin, SAT_ACT_SPIKE_V, color="#3a3aa0", lw=2.0, zorder=4.6)

# ---------------- Sunday
ax = axes[2]
setup_axis(ax, SUN_YTICKS)
sleep_span(ax, SUN_SLEEP)
ymin = SUN_YTICKS[0]
for hh, vv, cc in [(SUN_GREY_H, SUN_GREY_V, C_GRY), (SUN_BLUE_H, SUN_BLUE_V, C_BLU), (SUN_RED_H, SUN_RED_V, C_RED),
                   (SUN_GREEN_H, SUN_GREEN_V, C_GRN), (SUN_IR_H, SUN_IR_V, C_IR), (SUN_LIGHT_H, SUN_LIGHT_V, C_YEL),
                   (SUN_MAG_H, SUN_MAG_V, C_MAG)]:
    smooth(ax, hh, vv, cc)
dense(ax, SUN_B_H, SUN_B_LIGHT, SUN_B_GREEN, SUN_B_BLUE, SUN_B_MAG, SUN_B_GREY, SUN_B_ACT, ymin,
      mag_spikes=SUN_B_MAG_SPIKES, grey_drops=SUN_B_GREY_DROPS)
ax.vlines(SUN_GREEN_SPIKE_H, ymin, SUN_YTICKS[-1], color=C_GRN, lw=2.2, zorder=4.7)
ext_line(ax, SUN_EXT_H, SUN_EXT_V, C_EXT, 5)

# ---------------- Monday (its time labels are hidden behind the legend row)
ax = axes[3]
setup_axis(ax, MON_YTICKS, show_xlabels=False)
sleep_span(ax, MON_SLEEP)
for m in MON_GREEN_MARKS:
    ax.axvline(m, color="#a6efc4", lw=1.3, zorder=0.6)
ax.axvspan(MON_OFFWRIST[0], MON_OFFWRIST[1], color=C_OFF, lw=0, zorder=5.5)
ymin = MON_YTICKS[0]
smooth(ax, MON_LIGHT_H, MON_LIGHT_V, C_YEL)
smooth(ax, MON_ACT_H, MON_ACT_V, C_NAVY, lw=1.5)
dense(ax, MON_A_H, MON_A_LIGHT, MON_A_GREEN, MON_A_BLUE, MON_A_MAG, MON_A_GREY, MON_A_ACT, ymin,
      mag_spikes=MON_A_MAG_SPIKES)
dense(ax, MON_B_H, MON_B_LIGHT, MON_B_GREEN, MON_B_BLUE, MON_B_MAG, MON_B_GREY, MON_B_ACT, ymin,
      mag_spikes=MON_B_MAG_SPIKES)
ax.vlines(MON_ACT_SPIKE_H, ymin, MON_ACT_SPIKE_V, color=C_NAVY, lw=2.0, zorder=4.6)
ext_line(ax, MON_TEMP_H, MON_TEMP_V, C_TEMP, 5)
ext_line(ax, MON_EXT_H, MON_EXT_V, C_EXT, 5.1)

# day labels and right-hand notes
for (top, bot), name, date in zip(ROWS, DAY_NAMES, DAY_DATES):
    cy = (top + bot) / 2
    fig.text(fx(113), fy(cy), f"{name}\n{date}", rotation=90, ha="center", va="center", fontsize=15,
             fontweight="bold", family=NARROW, linespacing=1.05, multialignment="center")
    fig.text(fx(972), fy(cy + 28), f"Activity\nFull Scale\n{ACTIVITY_FULL_SCALE}", ha="center", va="center",
             fontsize=11, family=NARROW, linespacing=1.15, color="#222222")

# legend (bottom row, cut by page edge)
LEG_BOX_X = [147, 290, 432, 574, 717, 860]
LEG_TEXT_X = [188, 331, 474, 616, 758, 902]
LEG_COLORS = [C_NAVY, C_TEMP, C_EXT, C_IR, C_YEL, C_RED]
for bx, tx, lab, col in zip(LEG_BOX_X, LEG_TEXT_X, LEGEND_LABELS, LEG_COLORS):
    fig.add_artist(Rectangle((fx(bx), fy(945)), fx(33), (945 - 917) / H, transform=fig.transFigure,
                             facecolor="white", edgecolor="black", lw=2.6))
    fig.add_artist(Rectangle((fx(bx + 2), fy(945)), fx(29), (945 - 927) / H, transform=fig.transFigure,
                             facecolor=col, edgecolor="none"))
    fig.text(fx(tx), fy(925), lab, ha="left", va="top", fontsize=10, family="DejaVu Sans", color="#222222")

fig.savefig("out.png", dpi=100)
